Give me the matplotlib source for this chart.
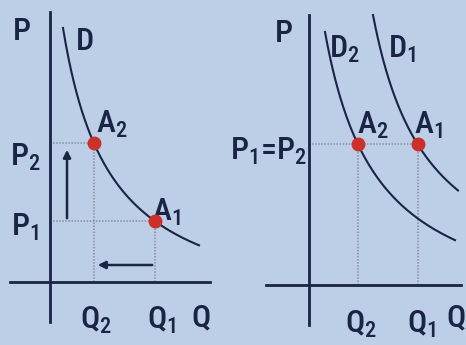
import numpy as np
import matplotlib
matplotlib.use("Agg")
import matplotlib.pyplot as plt
from matplotlib import font_manager

# Left panel: movement along one demand curve D (price rises, quantity falls)
left_q = [44, 105]          # Q2, Q1
left_p = [139, 61]          # P2, P1
left_curve = dict(k=14112, c=35, b=-40, q_from=13, q_to=149)

# Right panel: demand shifts from D1 to D2 at the same price
right_q = [49, 109]         # Q2, Q1
right_price = 141           # P1 = P2
d2_curve = dict(k=15529, c=37, b=-40, q_from=16, q_to=146)
d1_curve = dict(k=16095, c=-8.5, b=-20, q_from=64, q_to=149)

bg = "#bccfe6"
ink = "#1a2444"
dot = "#cc302a"
guide = "#8590a3"

names = {f.name for f in font_manager.fontManager.ttflist}
fam = next((n for n in ["Roboto Condensed", "Liberation Sans Narrow", "Open Sans Condensed",
                        "Roboto", "DejaVu Sans"] if n in names), "DejaVu Sans")
plt.rcParams["font.family"] = [fam, "DejaVu Sans"]
plt.rcParams["mathtext.fontset"] = "custom"
plt.rcParams["mathtext.rm"] = fam
plt.rcParams["mathtext.it"] = fam

fig = plt.figure(figsize=(4.66, 3.45), dpi=100, facecolor=bg)
ax1 = fig.add_axes([0, 0, 0.5, 1])
ax2 = fig.add_axes([0.5, 0, 0.5, 1])


def demand(ax, prm):
    q = np.linspace(prm["q_from"], prm["q_to"], 200)
    ax.plot(q, prm["k"] / (q + prm["c"]) + prm["b"], color=ink, lw=1.5)


def setup(ax, xlim, ylim, vb, hb):
    ax.set_facecolor(bg)
    ax.set_xlim(*xlim)
    ax.set_ylim(*ylim)
    for s in ["top", "right"]:
        ax.spines[s].set_visible(False)
    ax.spines["left"].set_position(("data", 0))
    ax.spines["bottom"].set_position(("data", 0))
    ax.spines["left"].set_bounds(*vb)
    ax.spines["bottom"].set_bounds(*hb)
    for s in ["left", "bottom"]:
        ax.spines[s].set_color(ink)
        ax.spines[s].set_linewidth(2)
    ax.set_xticks([])
    ax.set_yticks([])


fs = 23 if fam != "DejaVu Sans" else 17
kw = dict(color=ink, fontsize=fs, ha="center", va="center", fontweight="medium")
sub = r"$_\mathregular{%s}$"

# ---- left panel
setup(ax1, (-50, 183), (-63, 282), (-40, 270), (-40, 160))
for q, p in zip(left_q, left_p):
    ax1.plot([0, q], [p, p], color=guide, lw=1.1, ls=(0, (1, 1)))
    ax1.plot([q, q], [0, p], color=guide, lw=1.1, ls=(0, (1, 1)))
demand(ax1, left_curve)
ax1.plot(left_q, left_p, "o", color=dot, ms=9, zorder=5)
ax1.annotate("", xy=(17, left_p[0] - 4), xytext=(17, left_p[1]),
             arrowprops=dict(arrowstyle="-|>", color=ink, lw=1.8, mutation_scale=11))
ax1.annotate("", xy=(left_q[0] + 1, 17), xytext=(left_q[1], 17),
             arrowprops=dict(arrowstyle="-|>", color=ink, lw=1.8, mutation_scale=11))
ax1.text(-28, 250, "P", **kw)
ax1.text(35, 240, "D", **kw)
ax1.text(62, 158, "A" + sub % "2", **kw)
ax1.text(116, 70, "A" + sub % "1", **kw)
ax1.text(-25, 125, "P" + sub % "2", **kw)
ax1.text(-25, 55, "P" + sub % "1", **kw)
ax1.text(46, -38, "Q" + sub % "2", **kw)
ax1.text(112, -38, "Q" + sub % "1", **kw)
ax1.text(151, -36, "Q", **kw)

# ---- right panel
setup(ax2, (-76, 157), (-60, 285), (-40, 270), (-43, 152))
ax2.plot([0, right_q[1]], [right_price, right_price], color=guide, lw=1.1, ls=(0, (1, 1)))
for q in right_q:
    ax2.plot([q, q], [0, right_price], color=guide, lw=1.1, ls=(0, (1, 1)))
demand(ax2, d2_curve)
demand(ax2, d1_curve)
ax2.plot(right_q, [right_price] * 2, "o", color=dot, ms=9, zorder=5)
ax2.text(-25, 252, "P", **kw)
ax2.text(35, 236, "D" + sub % "2", **kw)
ax2.text(93, 236, "D" + sub % "1", **kw)
ax2.text(64, 160, "A" + sub % "2", **kw)
ax2.text(119, 160, "A" + sub % "1", **kw)
ax2.text(-41, 134, "P" + sub % "1" + "=P" + sub % "2", **kw)
ax2.text(52, -39, "Q" + sub % "2", **kw)
ax2.text(113, -39, "Q" + sub % "1", **kw)
ax2.text(147, -33, "Q", **kw)

fig.savefig("out.png", dpi=100, facecolor=bg)
